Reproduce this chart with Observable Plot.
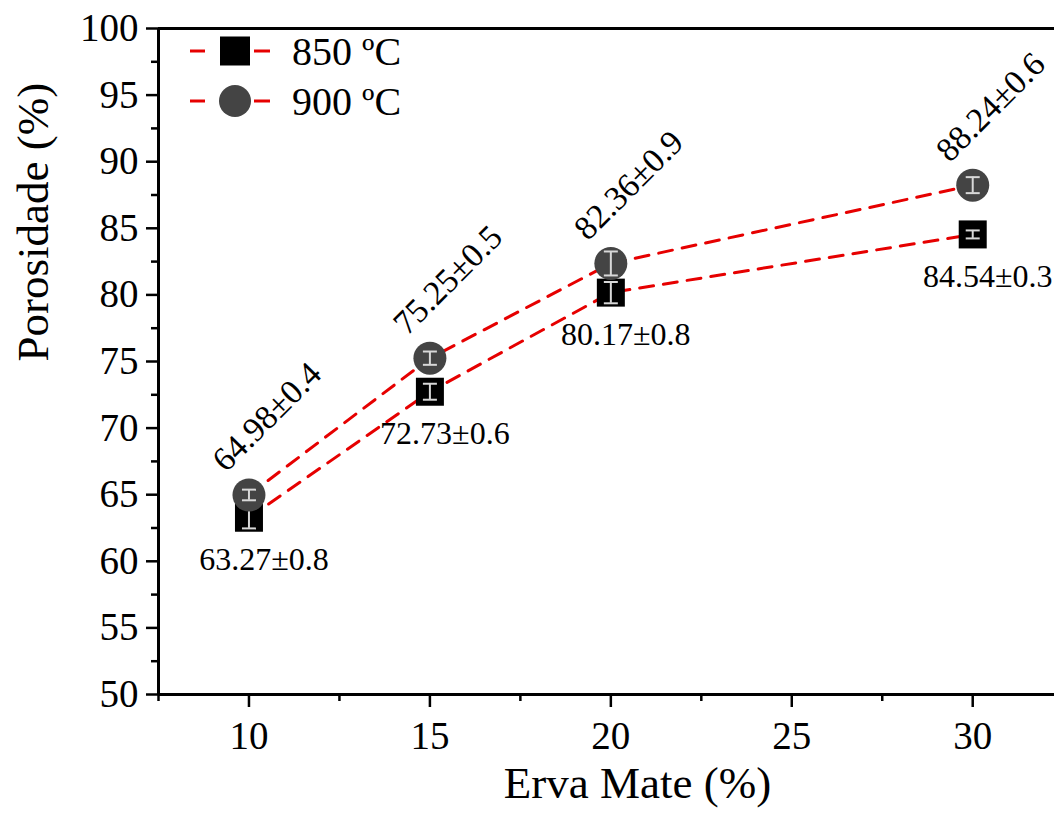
<!DOCTYPE html>
<html><head><meta charset="utf-8">
<script src="https://cdn.jsdelivr.net/npm/d3@7"></script>
<script src="https://cdn.jsdelivr.net/npm/@observablehq/plot@0.6"></script>
<style>
body{margin:0;background:#fff;overflow:hidden}
#wrap{position:relative;width:1054px;height:816px}
#legend{position:absolute;left:0;top:0}
</style>
</head><body><div id="wrap"></div>
<script>
const ervaMate = [10, 15, 20, 30];
const porosity850 = [63.27, 72.73, 80.17, 84.54];
const error850 = [0.8, 0.6, 0.8, 0.3];
const porosity900 = [64.98, 75.25, 82.36, 88.24];
const error900 = [0.4, 0.5, 0.9, 0.6];
const seriesNames = ["850 ºC", "900 ºC"];
const yTicks = [50, 55, 60, 65, 70, 75, 80, 85, 90, 95, 100];
const yMinorTicks = [52.5, 57.5, 62.5, 67.5, 72.5, 77.5, 82.5, 87.5, 92.5, 97.5];
const xTicks = [10, 15, 20, 25, 30];
const xMinorTicks = [7.5, 12.5, 17.5, 22.5, 27.5];
const xTitle = "Erva Mate (%)";
const yTitle = "Porosidade (%)";

const s850 = ervaMate.map((x, i) => ({x, y: porosity850[i], e: error850[i], s: seriesNames[0]}));
const s900 = ervaMate.map((x, i) => ({x, y: porosity900[i], e: error900[i], s: seriesNames[1]}));
const label = d => `${d.y.toFixed(2)}±${d.e.toFixed(1)}`;

const RED = "#e60000";
const capSymbol = {draw(ctx) { ctx.moveTo(-7, 0); ctx.lineTo(7, 0); }};
const errMarks = data => [
  Plot.ruleX(data, {x: "x", y1: d => d.y - d.e, y2: d => d.y + d.e, stroke: "#d8d8d8", strokeWidth: 2}),
  Plot.dot(data, {x: "x", y: d => d.y - d.e, symbol: capSymbol, r: 5, fill: "none", stroke: "#d8d8d8", strokeWidth: 2}),
  Plot.dot(data, {x: "x", y: d => d.y + d.e, symbol: capSymbol, r: 5, fill: "none", stroke: "#d8d8d8", strokeWidth: 2})
];

const chart = Plot.plot({
  width: 1054,
  height: 816,
  marginLeft: 158,
  marginRight: 0,
  marginTop: 28,
  marginBottom: 122,
  style: {fontFamily: "'Liberation Serif', 'Times New Roman', serif", background: "#fff", color: "#000", overflow: "visible"},
  x: {domain: [7.5, 32.26]},
  y: {domain: [50, 100]},
  marks: [
    Plot.axisY({ticks: yTicks, tickSize: 12, tickPadding: 8, fontSize: 39, strokeWidth: 2.5, label: null}),
    Plot.axisY({ticks: yMinorTicks, tickSize: 7, strokeWidth: 2.5, text: null, label: null}),
    Plot.axisX({ticks: xTicks, tickSize: 13, tickPadding: 14, fontSize: 39, strokeWidth: 2.5, label: null}),
    Plot.axisX({ticks: xMinorTicks, tickSize: 7, strokeWidth: 2.5, text: null, label: null}),
    Plot.ruleY([50, 100], {strokeWidth: 3}),
    Plot.ruleX([7.5], {strokeWidth: 3}),
    Plot.text([xTitle], {frameAnchor: "bottom", dx: 31, dy: 103, fontSize: 45}),
    Plot.text([yTitle], {frameAnchor: "left", dx: -125, rotate: -90, fontSize: 45}),
    Plot.line(s850, {x: "x", y: "y", stroke: RED, strokeWidth: 3, strokeDasharray: "14,10"}),
    Plot.line(s900, {x: "x", y: "y", stroke: RED, strokeWidth: 3, strokeDasharray: "14,10"}),
    Plot.dot(s850, {x: "x", y: "y", symbol: "square", r: 15.8, fill: "#000"}),
    ...errMarks(s850),
    Plot.dot(s900, {x: "x", y: "y", symbol: "circle", r: 16.5, fill: "#444"}),
    ...errMarks(s900),
    Plot.text(s850, {x: "x", y: "y", text: label, dx: 15, dy: 42, fontSize: 32, fill: "#000"}),
    Plot.text(s900, {x: "x", y: "y", text: label, dx: 18, dy: -78, rotate: -45, fontSize: 34, fill: "#000"})
  ]
});
const wrap = document.getElementById("wrap");
wrap.appendChild(chart);

// legend overlay
const lg = d3.select(wrap).append("svg").attr("id", "legend").attr("width", 450).attr("height", 140)
  .style("font-family", "'Liberation Serif', 'Times New Roman', serif");
const rows = [{name: seriesNames[0], cy: 51, sym: "square"}, {name: seriesNames[1], cy: 101, sym: "circle"}];
rows.forEach(r => {
  lg.append("line").attr("x1", 190).attr("x2", 205).attr("y1", r.cy).attr("y2", r.cy).attr("stroke", RED).attr("stroke-width", 3);
  lg.append("line").attr("x1", 254).attr("x2", 270).attr("y1", r.cy).attr("y2", r.cy).attr("stroke", RED).attr("stroke-width", 3);
  if (r.sym === "square") {
    lg.append("rect").attr("x", 220).attr("y", r.cy - 14.5).attr("width", 30).attr("height", 29).attr("fill", "#000");
  } else {
    lg.append("circle").attr("cx", 235).attr("cy", r.cy).attr("r", 16).attr("fill", "#444");
  }
  lg.append("text").attr("x", 292).attr("y", r.cy + 14).attr("font-size", 40).attr("fill", "#000").text(r.name);
});
</script>
</body></html>
